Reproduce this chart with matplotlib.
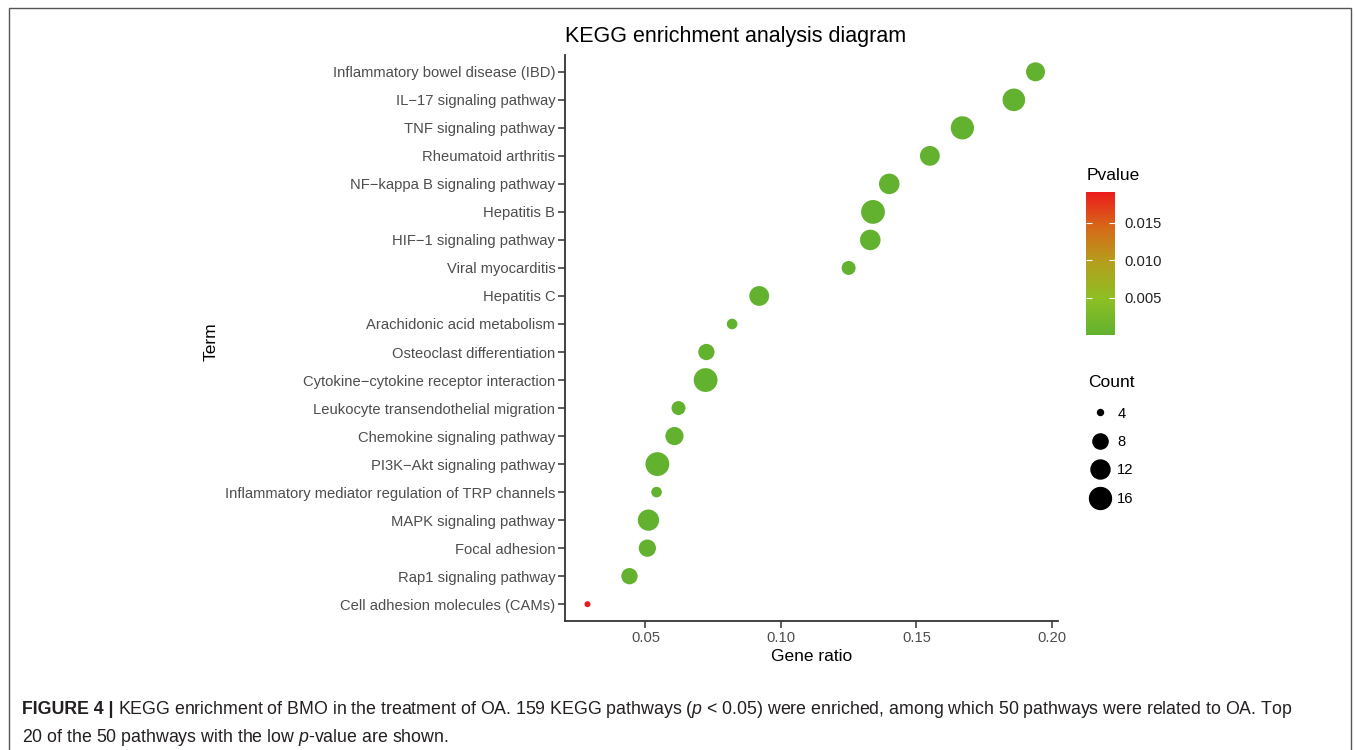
import numpy as np
import matplotlib
matplotlib.use("Agg")
import matplotlib.pyplot as plt
from matplotlib.colors import LinearSegmentedColormap
from matplotlib.lines import Line2D
from matplotlib.patches import Rectangle

plt.rcParams["font.family"] = ["Liberation Sans", "DejaVu Sans"]
plt.rcParams["mathtext.fontset"] = "custom"
plt.rcParams["mathtext.rm"] = "Liberation Sans"
plt.rcParams["mathtext.it"] = "Liberation Sans:italic"
plt.rcParams["mathtext.bf"] = "Liberation Sans:bold"

# top-20 KEGG pathways, listed top to bottom
terms = [
    "Inflammatory bowel disease (IBD)",
    "IL\u221217 signaling pathway",
    "TNF signaling pathway",
    "Rheumatoid arthritis",
    "NF\u2212kappa B signaling pathway",
    "Hepatitis B",
    "HIF\u22121 signaling pathway",
    "Viral myocarditis",
    "Hepatitis C",
    "Arachidonic acid metabolism",
    "Osteoclast differentiation",
    "Cytokine\u2212cytokine receptor interaction",
    "Leukocyte transendothelial migration",
    "Chemokine signaling pathway",
    "PI3K\u2212Akt signaling pathway",
    "Inflammatory mediator regulation of TRP channels",
    "MAPK signaling pathway",
    "Focal adhesion",
    "Rap1 signaling pathway",
    "Cell adhesion molecules (CAMs)",
]
gene_ratio = [0.194, 0.186, 0.167, 0.155, 0.140, 0.134, 0.133, 0.125, 0.092, 0.082,
              0.0725, 0.0722, 0.0622, 0.0607, 0.0544, 0.0541, 0.0511, 0.0507, 0.0441, 0.0286]
counts = [12, 17, 18, 13, 14, 19, 14, 7, 13, 5,
          9, 19, 7, 11, 19, 5, 15, 10, 9, 4]
pvalues = [1e-9, 1e-12, 1e-14, 1e-9, 1e-10, 1e-12, 1e-10, 2e-6, 1e-8, 3e-5,
           1e-6, 1e-9, 2e-6, 1e-6, 1e-8, 5e-5, 1e-7, 1e-5, 2e-5, 0.0191]

legend_counts = [4, 8, 12, 16]
cbar_ticks = [0.005, 0.010, 0.015]

caption1 = ("KEGG enrichment of BMO in the treatment of OA. 159 KEGG pathways ($\\mathit{p}$ < 0.05) "
            "were enriched, among which 50 pathways were related to OA. Top")
caption2 = "20 of the 50 pathways with the low $\\mathit{p}$-value are shown."

DPI = 100
W, H = 1355, 750
LAB = 10.6   # tick / legend label size


def dot_size(c):
    # area-style size scale: diameter in px grows with sqrt of count above the minimum
    d_px = 6 + 4.6 * np.sqrt(np.asarray(c, dtype=float) - min(counts))
    d_pt = d_px * 72 / DPI
    return d_pt


cmap = LinearSegmentedColormap.from_list(
    "pval", ["#62b22f", "#8dbf24", "#b3a01c", "#d66a18", "#ec1c1c"])

fig = plt.figure(figsize=(W / DPI, H / DPI), dpi=DPI)

ax = fig.add_axes([565 / W, 1 - 621 / H, (1058 - 565) / W, (621 - 55) / H])
ypos = np.arange(len(terms))[::-1]
sc = ax.scatter(gene_ratio, ypos, s=dot_size(counts) ** 2, c=pvalues, cmap=cmap,
                vmin=0, vmax=max(pvalues), edgecolors="none", zorder=3)

ax.set_ylim(-0.6, len(terms) - 0.4)
ax.set_xlim(0.0203, 0.2023)
ax.set_yticks(ypos)
ax.set_yticklabels(terms)
ax.set_xticks([0.05, 0.10, 0.15, 0.20])
ax.set_xticklabels(["0.05", "0.10", "0.15", "0.20"])
for side in ["top", "right"]:
    ax.spines[side].set_visible(False)
for side in ["left", "bottom"]:
    ax.spines[side].set_color("#333333")
    ax.spines[side].set_linewidth(1.3)
ax.tick_params(axis="both", colors="#333333", labelcolor="#4d4d4d", labelsize=LAB,
               length=5, width=1.1, pad=2)
ax.set_xlabel("Gene ratio", fontsize=12.5, labelpad=3)
ax.set_title("KEGG enrichment analysis diagram", loc="left", fontsize=15.5, pad=9)
fig.text(211 / W, 1 - 342 / H, "Term", rotation=90, fontsize=12.5,
         ha="center", va="center")

# Pvalue colour bar
cax = fig.add_axes([1086 / W, 1 - 335 / H, 29 / W, 143 / H])
cb = fig.colorbar(sc, cax=cax, ticks=cbar_ticks, format="%.3f")
cb.outline.set_visible(False)
cax.tick_params(direction="in", color="white", length=4, width=0.8,
                left=True, right=True, labelsize=LAB, labelcolor="#222222", pad=7)
fig.text(1087 / W, 1 - 175 / H, "Pvalue", fontsize=12.5, va="center", ha="left")

# Count size legend
handles = [Line2D([], [], ls="none", marker="o", color="black",
                  markersize=float(dot_size(c))) for c in legend_counts]
leg = fig.legend(handles, [str(c) for c in legend_counts], title="Count",
                 loc="upper left", bbox_to_anchor=(1082 / W, 1 - 369 / H),
                 frameon=False, fontsize=LAB, title_fontsize=12.5,
                 labelspacing=0.98, handletextpad=0.4, handlelength=1.6,
                 borderaxespad=0)
leg._legend_box.align = "left"
leg._legend_box.sep = 12

# outer frame and figure caption
fig.patches.append(Rectangle((9 / W, -0.05), (1351 - 9) / W, 1.05 - 8 / H,
                             transform=fig.transFigure, fill=False,
                             edgecolor="#555555", linewidth=1.0))
CAP = 12.8
t1 = fig.text(22 / W, 1 - 710 / H, "FIGURE 4 |", fontsize=CAP, fontweight="bold",
              color="#231f20", va="center", ha="left")
fig.canvas.draw()
bb = t1.get_window_extent()
fig.text(bb.x1 / W + 4 / W, 1 - 710 / H, caption1, fontsize=CAP, color="#231f20",
         va="center", ha="left")
fig.text(22 / W, 1 - 737 / H, caption2, fontsize=CAP, color="#231f20",
         va="center", ha="left")

fig.savefig("out.png", dpi=DPI)
